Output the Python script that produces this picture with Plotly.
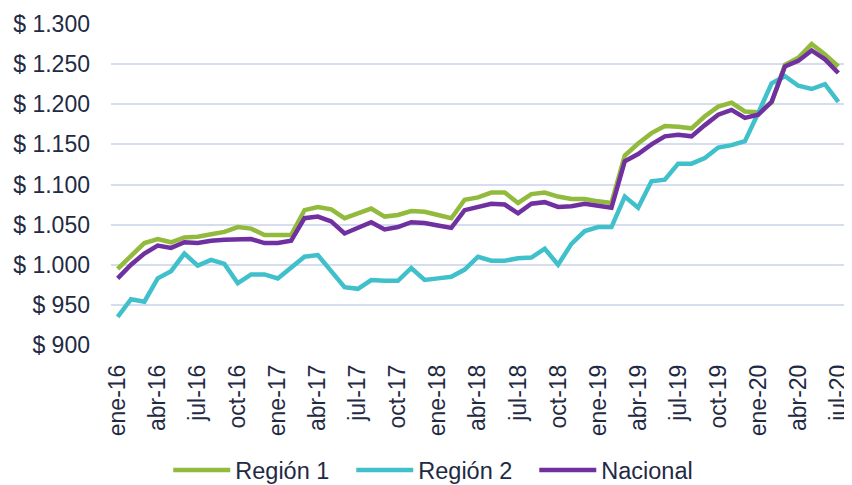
import plotly.graph_objects as go

meses = ["ene", "feb", "mar", "abr", "may", "jun", "jul", "ago", "sep", "oct", "nov", "dic"]
periodos = [f"{m}-{a}" for a in range(16, 21) for m in meses][:55]

region_1 = [995, 1012, 1027, 1032, 1028, 1034, 1035, 1038, 1041, 1047,
            1045, 1037, 1037, 1037, 1068, 1072, 1069, 1058, 1064, 1070,
            1060, 1062, 1067, 1066, 1062, 1058, 1081, 1084, 1090, 1090,
            1077, 1088, 1090, 1085, 1082, 1082, 1079, 1077, 1136, 1151,
            1164, 1173, 1172, 1170, 1185, 1197, 1202, 1191, 1190, 1202,
            1249, 1258, 1275, 1262, 1247]

region_2 = [935, 957, 954, 983, 992, 1014, 999, 1006, 1001, 977,
            988, 988, 983, 996, 1010, 1012, 992, 972, 970, 981,
            980, 980, 996, 981, 983, 985, 994, 1010, 1005, 1005,
            1008, 1009, 1020, 1000, 1026, 1042, 1047, 1047, 1085, 1071,
            1104, 1106, 1126, 1126, 1133, 1146, 1149, 1154, 1189, 1226,
            1235, 1223, 1219, 1225, 1203]

nacional = [983, 1000, 1014, 1024, 1021, 1028, 1027, 1030, 1031, 1031,
            1032, 1027, 1027, 1030, 1058, 1060, 1054, 1039, 1046, 1053,
            1044, 1047, 1053, 1052, 1049, 1046, 1068, 1072, 1076, 1075,
            1064, 1076, 1078, 1072, 1073, 1076, 1073, 1071, 1129, 1138,
            1150, 1160, 1162, 1160, 1174, 1187, 1193, 1183, 1187, 1203,
            1247, 1254, 1267, 1256, 1239]

tick_idx = list(range(0, 55, 3))
text_color = "#1F2A44"

fig = go.Figure()

fig.add_trace(go.Scatter(
    x=periodos, y=region_1, name="Región 1",
    mode="lines", line=dict(color="#92BA3C", width=4.5)
))
fig.add_trace(go.Scatter(
    x=periodos, y=region_2, name="Región 2",
    mode="lines", line=dict(color="#40C0CA", width=4.5)
))
fig.add_trace(go.Scatter(
    x=periodos, y=nacional, name="Nacional",
    mode="lines", line=dict(color="#7030A0", width=4.5)
))

# the page body has an 8px margin, so the figure is sized a bit smaller
fig.update_layout(
    width=844, height=477,
    margin=dict(l=103, r=7, t=16, b=140),
    plot_bgcolor="white", paper_bgcolor="white",
    separators=",.",
    font=dict(family="Liberation Sans, Arial, sans-serif", size=23, color=text_color),
    showlegend=True,
    legend=dict(
        orientation="h", x=0.452, xanchor="center",
        yref="container", y=0.031, yanchor="middle",
        font=dict(size=23.5, color=text_color), itemwidth=57,
        entrywidth=111, entrywidthmode="pixels",
        bgcolor="rgba(0,0,0,0)"
    ),
    xaxis=dict(
        type="category", range=[-0.5, 54.5],
        tickvals=[periodos[i] for i in tick_idx],
        ticktext=[periodos[i] for i in tick_idx],
        tickangle=-90, showgrid=False, showline=False, zeroline=False,
        ticklabelstandoff=14, automargin=False
    ),
    yaxis=dict(
        range=[900, 1300], dtick=50, tickprefix="$ ", tickformat=",d",
        showgrid=True, gridcolor="#D6DDEE", gridwidth=1.5,
        zeroline=False, showline=False, ticklabelstandoff=20,
        automargin=False
    )
)

fig.write_html("out.html")
